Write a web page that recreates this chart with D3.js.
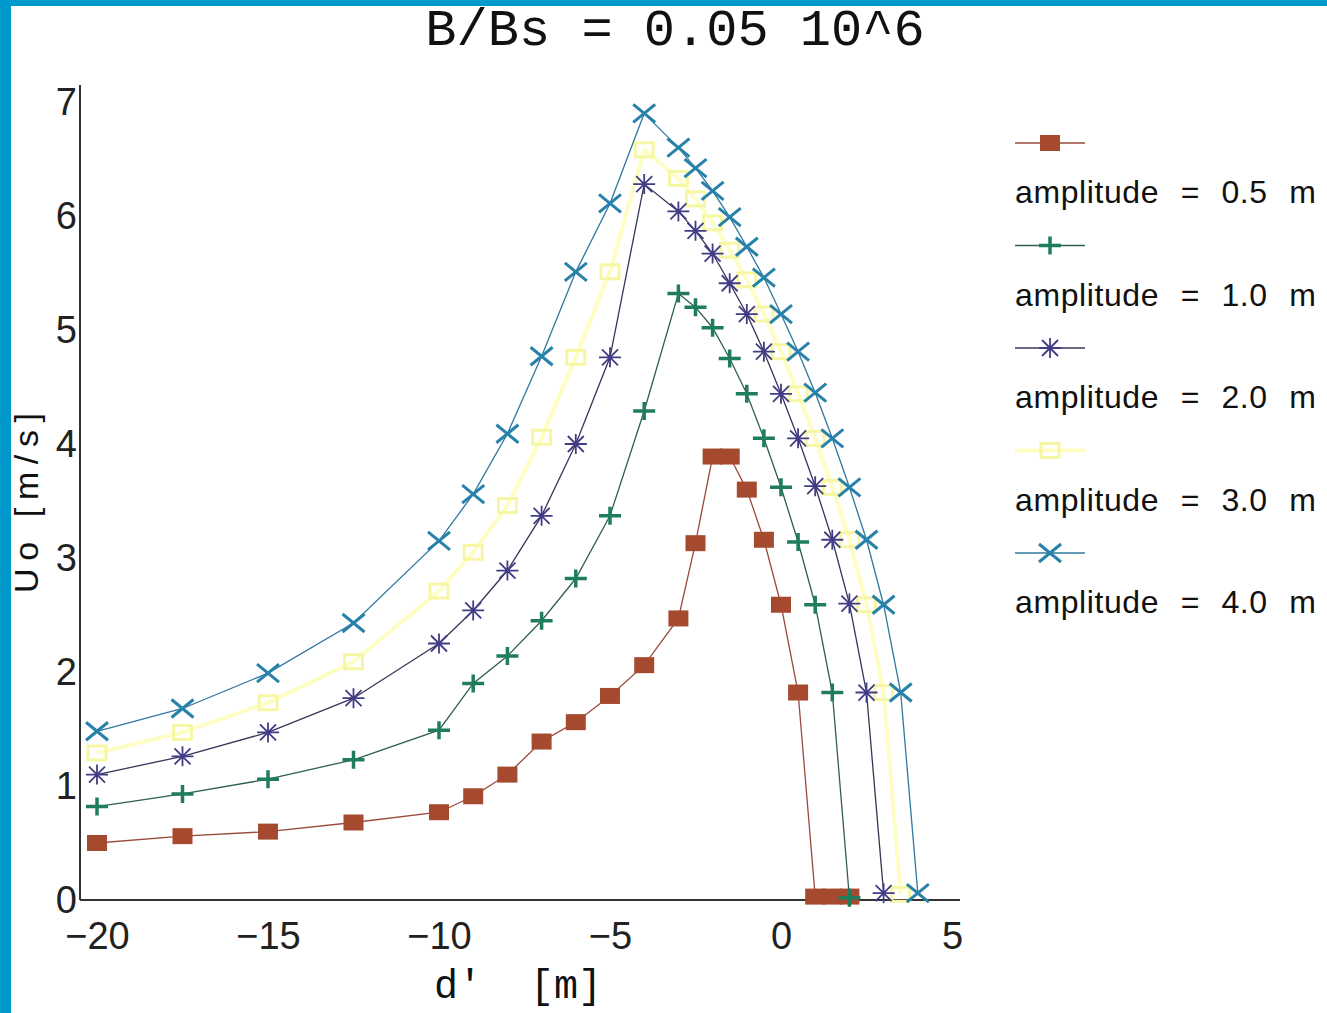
<!DOCTYPE html>
<html>
<head>
<meta charset="utf-8">
<script src="https://cdn.jsdelivr.net/npm/d3@7"></script>
<style>
  body { margin: 0; background: #fff; }
  svg { display: block; }
</style>
</head>
<body>
<div id="plot"></div>
<script>
// shared x positions, each series uses the first n of them
var dPos = [-20, -17.5, -15, -12.5, -10, -9, -8, -7, -6, -5, -4, -3,
  -2.5, -2, -1.5, -1, -0.5, 0, 0.5, 1, 1.5, 2, 2.5, 3, 3.5, 4];

var amp05 = [0.50, 0.56, 0.60, 0.68, 0.77, 0.91, 1.10, 1.39, 1.56, 1.79, 2.06, 2.47,
  3.13, 3.89, 3.89, 3.60, 3.16, 2.59, 1.82, 0.03, 0.03, 0.03];
var amp10 = [0.82, 0.93, 1.06, 1.23, 1.49, 1.90, 2.14, 2.45, 2.82, 3.37, 4.29, 5.32,
  5.20, 5.02, 4.75, 4.44, 4.05, 3.62, 3.14, 2.59, 1.82, 0.02];
var amp20 = [1.10, 1.26, 1.47, 1.77, 2.25, 2.54, 2.89, 3.37, 4.00, 4.76, 6.28, 6.04,
  5.87, 5.67, 5.41, 5.14, 4.81, 4.44, 4.05, 3.63, 3.16, 2.60, 1.82, 0.06];
var amp30 = [1.29, 1.47, 1.73, 2.09, 2.71, 3.05, 3.46, 4.06, 4.76, 5.51, 6.58, 6.33,
  6.15, 5.94, 5.70, 5.44, 5.14, 4.81, 4.44, 4.05, 3.62, 3.16, 2.59, 1.82, 0.05];
var amp40 = [1.48, 1.68, 1.99, 2.43, 3.15, 3.56, 4.09, 4.77, 5.51, 6.11, 6.90, 6.60,
  6.42, 6.22, 5.99, 5.73, 5.46, 5.14, 4.81, 4.45, 4.05, 3.62, 3.16, 2.59, 1.82, 0.06];

var legendLabels = ["amplitude = 0.5 m", "amplitude = 1.0 m", "amplitude = 2.0 m",
  "amplitude = 3.0 m", "amplitude = 4.0 m"];
var xTicks = [-20, -15, -10, -5, 0, 5];
var yTicks = [0, 1, 2, 3, 4, 5, 6, 7];

var series = [
  { values: amp05, label: legendLabels[0], color: "#a5492f", line: "#9a4a3a", marker: "square" },
  { values: amp10, label: legendLabels[1], color: "#1f7d5c", line: "#2f5f50", marker: "plus" },
  { values: amp20, label: legendLabels[2], color: "#423c86", line: "#383658", marker: "star" },
  { values: amp30, label: legendLabels[3], color: "#f6f6a4", line: "#fdfdc4", marker: "hollow" },
  { values: amp40, label: legendLabels[4], color: "#2781a8", line: "#2f78a0", marker: "cross" }
];

var width = 1327;
var height = 1013;

var svg = d3.select("#plot").append("svg")
  .attr("width", width)
  .attr("height", height);

// blue frame
svg.append("rect").attr("x", 0).attr("y", 0).attr("width", 11).attr("height", height).attr("fill", "#0099cc");
svg.append("rect").attr("x", 0).attr("y", 0).attr("width", width).attr("height", 6).attr("fill", "#0099cc");

var x = d3.scaleLinear().domain([-20, 5]).range([97, 952]);
var y = d3.scaleLinear().domain([0, 7]).range([900, 102]);

// axes
var xAxis = svg.append("g")
  .attr("transform", "translate(0,900)")
  .call(d3.axisBottom(x).tickValues(xTicks).tickFormat(d3.format("d")).tickSize(0).tickPadding(22));
xAxis.select(".domain").remove();
xAxis.selectAll("text")
  .attr("font-family", "Liberation Sans, Arial, sans-serif")
  .attr("font-size", 38)
  .attr("fill", "#222");

var yAxis = svg.append("g")
  .attr("transform", "translate(80,0)")
  .call(d3.axisLeft(y).tickValues(yTicks).tickFormat(d3.format("d")).tickSize(0).tickPadding(3));
yAxis.select(".domain").remove();
yAxis.selectAll("text")
  .attr("font-family", "Liberation Sans, Arial, sans-serif")
  .attr("font-size", 38)
  .attr("fill", "#222");

svg.append("line").attr("x1", 80).attr("x2", 80).attr("y1", 85).attr("y2", 900)
  .attr("stroke", "#333").attr("stroke-width", 2);
svg.append("line").attr("x1", 80).attr("x2", 960).attr("y1", 900).attr("y2", 900)
  .attr("stroke", "#333").attr("stroke-width", 2);

// markers
function drawMarker(g, type, color) {
  if (type === "square") {
    g.append("rect").attr("x", -10).attr("y", -8).attr("width", 20).attr("height", 16).attr("fill", color);
  } else if (type === "hollow") {
    g.append("rect").attr("x", -9).attr("y", -7).attr("width", 18).attr("height", 14)
      .attr("fill", "none").attr("stroke", color).attr("stroke-width", 3);
  } else if (type === "plus") {
    g.append("path").attr("d", "M-11,0H11M0,-9V9").attr("stroke", color).attr("stroke-width", 3.5);
  } else if (type === "cross") {
    g.append("path").attr("d", "M-11,-9L11,9M-11,9L11,-9").attr("stroke", color).attr("stroke-width", 3);
  } else if (type === "star") {
    g.append("path").attr("d", "M-11,0H11M0,-10V10M-8,-8L8,8M-8,8L8,-8")
      .attr("stroke", color).attr("stroke-width", 1.8);
  }
}

var line = d3.line()
  .x(function (d) { return x(d.x); })
  .y(function (d) { return y(d.y); });

var drawOrder = [3, 0, 1, 2, 4];
drawOrder.forEach(function (si) {
  var s = series[si];
  var pts = s.values.map(function (v, i) { return { x: dPos[i], y: v }; });
  svg.append("path")
    .datum(pts)
    .attr("d", line)
    .attr("fill", "none")
    .attr("stroke", s.line)
    .attr("stroke-width", s.marker === "hollow" ? 4 : 1.3);
  svg.append("g").selectAll("g")
    .data(pts)
    .enter()
    .append("g")
    .attr("transform", function (d) { return "translate(" + x(d.x) + "," + y(d.y) + ")"; })
    .each(function () { drawMarker(d3.select(this), s.marker, s.color); });
});

// legend
var legend = svg.append("g").attr("transform", "translate(1015,143)");
var items = legend.selectAll("g")
  .data(series)
  .enter()
  .append("g")
  .attr("transform", function (d, i) { return "translate(0," + (i * 102.5) + ")"; });
items.append("line").attr("x1", 0).attr("x2", 70).attr("y1", 0).attr("y2", 0)
  .attr("stroke", function (d) { return d.line; }).attr("stroke-width", function (d) { return d.marker === "hollow" ? 4 : 1.3; });
items.each(function (d) {
  var g = d3.select(this).append("g").attr("transform", "translate(35,0)");
  drawMarker(g, d.marker, d.color);
});
items.append("text")
  .attr("x", 0)
  .attr("y", 60)
  .attr("font-family", "Liberation Sans, Arial, sans-serif")
  .attr("font-size", 32)
  .attr("word-spacing", 12)
  .attr("letter-spacing", 0.6)
  .attr("fill", "#111")
  .text(function (d) { return d.label; });

// titles
svg.append("text")
  .attr("x", 675).attr("y", 45)
  .attr("text-anchor", "middle")
  .attr("font-family", "Liberation Mono, DejaVu Sans Mono, monospace")
  .attr("font-size", 52)
  .attr("fill", "#111")
  .text("B/Bs = 0.05 10^6");

svg.append("text")
  .attr("x", 518).attr("y", 998)
  .attr("text-anchor", "middle")
  .attr("font-family", "Liberation Mono, DejaVu Sans Mono, monospace")
  .attr("font-size", 40)
  .attr("fill", "#111")
  .attr("xml:space", "preserve")
  .text("d'  [m]");

svg.append("text")
  .attr("transform", "translate(38,503) rotate(-90)")
  .attr("text-anchor", "middle")
  .attr("font-family", "Liberation Sans, Arial, sans-serif")
  .attr("font-size", 34)
  .attr("textLength", 180)
  .attr("lengthAdjust", "spacing")
  .attr("fill", "#111")
  .text("Uo [m/s]");
</script>
</body>
</html>
